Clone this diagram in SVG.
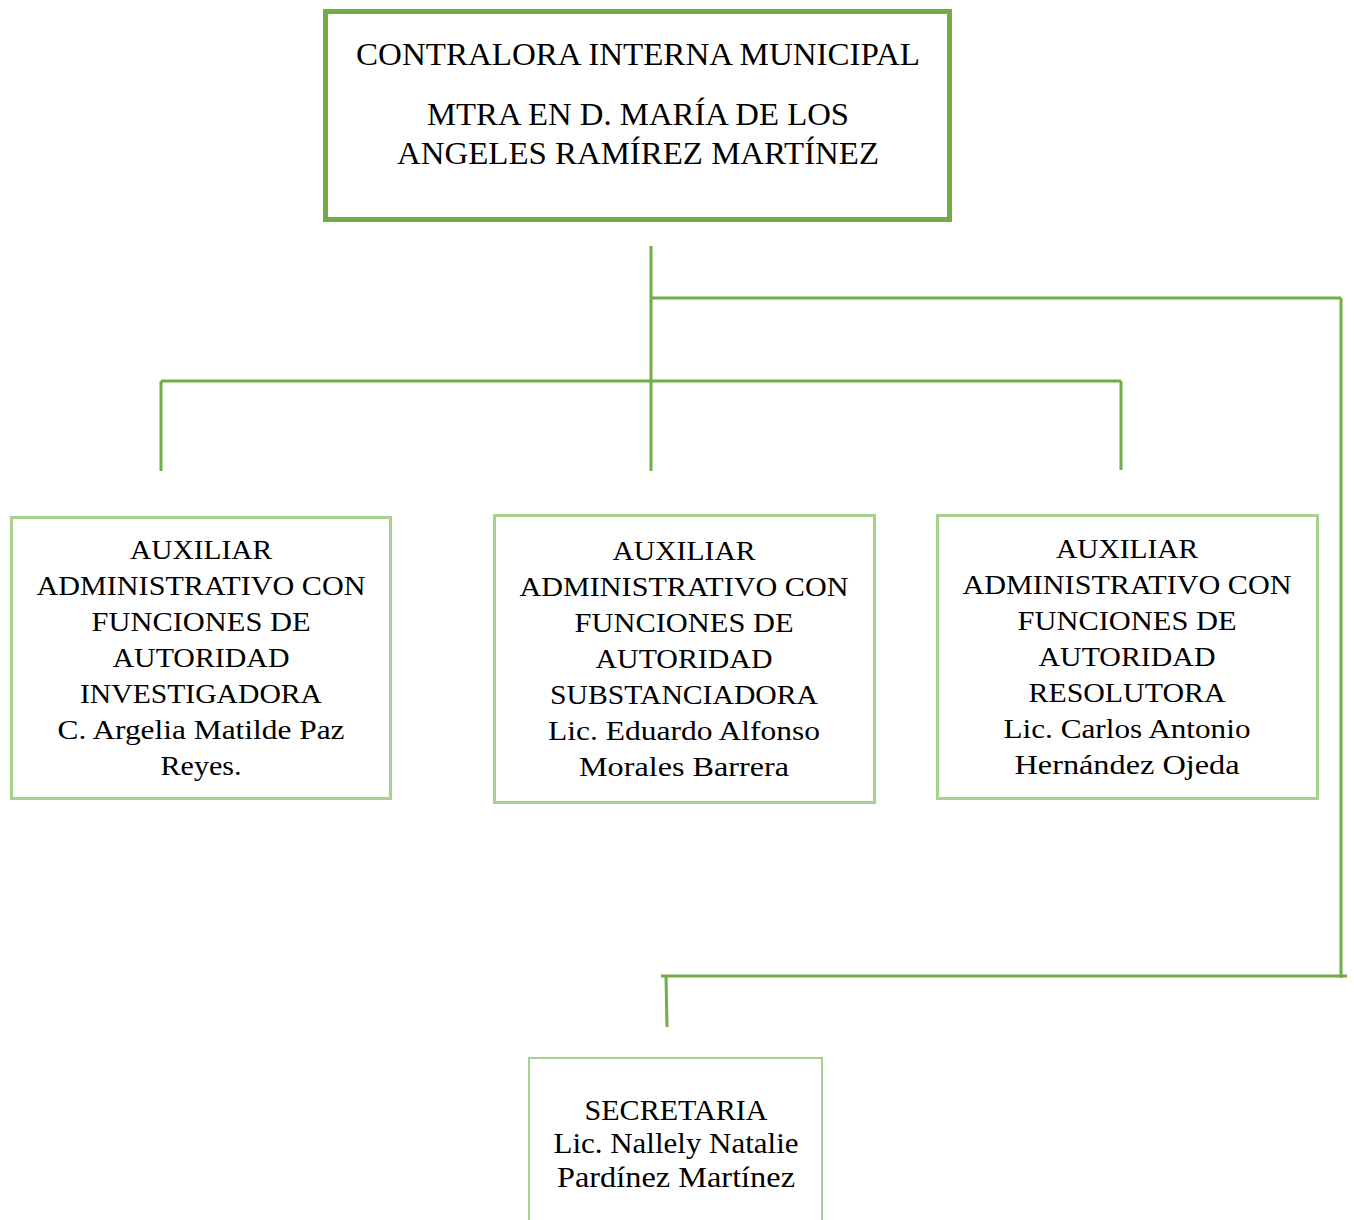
<svg xmlns="http://www.w3.org/2000/svg" width="1354" height="1220" viewBox="0 0 1354 1220">
<style>
text{font-family:"Liberation Serif","Times New Roman",serif;fill:#000;text-anchor:middle}
.t{font-size:31px}
.b{font-size:28px}
.s{font-size:29px}
.top{fill:#fff;stroke:#70ad47;stroke-width:5}
.box{fill:#fff;stroke:#a9d18e;stroke-width:3}
.sec{fill:#fff;stroke:#a9d18e;stroke-width:2}
.c{stroke:#70ad47;stroke-width:3;fill:none}
</style>
<rect width="1354" height="1220" fill="#fff"/>
<g id="connectors">
<line class="c" x1="651" y1="246" x2="651" y2="471"/>
<line class="c" x1="651" y1="298" x2="1341" y2="298"/>
<line class="c" x1="1341" y1="298" x2="1341" y2="978"/>
<line class="c" x1="161" y1="381" x2="1121" y2="381"/>
<line class="c" x1="161" y1="381" x2="161" y2="471"/>
<line class="c" x1="1121" y1="381" x2="1121" y2="470"/>
<line class="c" x1="661" y1="976" x2="1347" y2="976"/>
<line class="c" x1="666" y1="976" x2="667" y2="1027"/>
</g>
<g id="contralora">
<rect class="top" x="325.5" y="11.5" width="624" height="208"/>
<text class="t" x="638" y="65" textLength="564" lengthAdjust="spacingAndGlyphs">CONTRALORA INTERNA MUNICIPAL</text>
<text class="t" x="638" y="125" textLength="422" lengthAdjust="spacingAndGlyphs">MTRA EN D. MARÍA DE LOS</text>
<text class="t" x="638" y="164" textLength="482" lengthAdjust="spacingAndGlyphs">ANGELES RAMÍREZ MARTÍNEZ</text>
</g>
<g id="investigadora">
<rect class="box" x="11.5" y="517.5" width="379" height="281"/>
<text class="b" x="201" y="559" textLength="142" lengthAdjust="spacingAndGlyphs">AUXILIAR</text>
<text class="b" x="201" y="595" textLength="329" lengthAdjust="spacingAndGlyphs">ADMINISTRATIVO CON</text>
<text class="b" x="201" y="631" textLength="219" lengthAdjust="spacingAndGlyphs">FUNCIONES DE</text>
<text class="b" x="201" y="667" textLength="177" lengthAdjust="spacingAndGlyphs">AUTORIDAD</text>
<text class="b" x="201" y="703" textLength="242" lengthAdjust="spacingAndGlyphs">INVESTIGADORA</text>
<text class="b" x="201" y="739" textLength="287" lengthAdjust="spacingAndGlyphs">C. Argelia Matilde Paz</text>
<text class="b" x="201" y="775" textLength="81" lengthAdjust="spacingAndGlyphs">Reyes.</text>
</g>
<g id="substanciadora">
<rect class="box" x="494.5" y="515.5" width="380" height="287"/>
<text class="b" x="684" y="560" textLength="143" lengthAdjust="spacingAndGlyphs">AUXILIAR</text>
<text class="b" x="684" y="596" textLength="329" lengthAdjust="spacingAndGlyphs">ADMINISTRATIVO CON</text>
<text class="b" x="684" y="632" textLength="219" lengthAdjust="spacingAndGlyphs">FUNCIONES DE</text>
<text class="b" x="684" y="668" textLength="177" lengthAdjust="spacingAndGlyphs">AUTORIDAD</text>
<text class="b" x="684" y="704" textLength="268" lengthAdjust="spacingAndGlyphs">SUBSTANCIADORA</text>
<text class="b" x="684" y="740" textLength="272" lengthAdjust="spacingAndGlyphs">Lic. Eduardo Alfonso</text>
<text class="b" x="684" y="776" textLength="210" lengthAdjust="spacingAndGlyphs">Morales Barrera</text>
</g>
<g id="resolutora">
<rect class="box" x="937.5" y="515.5" width="380" height="283"/>
<text class="b" x="1127" y="558" textLength="142" lengthAdjust="spacingAndGlyphs">AUXILIAR</text>
<text class="b" x="1127" y="594" textLength="329" lengthAdjust="spacingAndGlyphs">ADMINISTRATIVO CON</text>
<text class="b" x="1127" y="630" textLength="219" lengthAdjust="spacingAndGlyphs">FUNCIONES DE</text>
<text class="b" x="1127" y="666" textLength="177" lengthAdjust="spacingAndGlyphs">AUTORIDAD</text>
<text class="b" x="1127" y="702" textLength="197" lengthAdjust="spacingAndGlyphs">RESOLUTORA</text>
<text class="b" x="1127" y="738" textLength="247" lengthAdjust="spacingAndGlyphs">Lic. Carlos Antonio</text>
<text class="b" x="1127" y="774" textLength="225" lengthAdjust="spacingAndGlyphs">Hernández Ojeda</text>
</g>
<g id="secretaria">
<rect class="sec" x="529" y="1058" width="293" height="180"/>
<text class="s" x="676" y="1120" textLength="183" lengthAdjust="spacingAndGlyphs">SECRETARIA</text>
<text class="s" x="676" y="1153" textLength="245" lengthAdjust="spacingAndGlyphs">Lic. Nallely Natalie</text>
<text class="s" x="676" y="1187" textLength="238" lengthAdjust="spacingAndGlyphs">Pardínez Martínez</text>
</g>
</svg>
